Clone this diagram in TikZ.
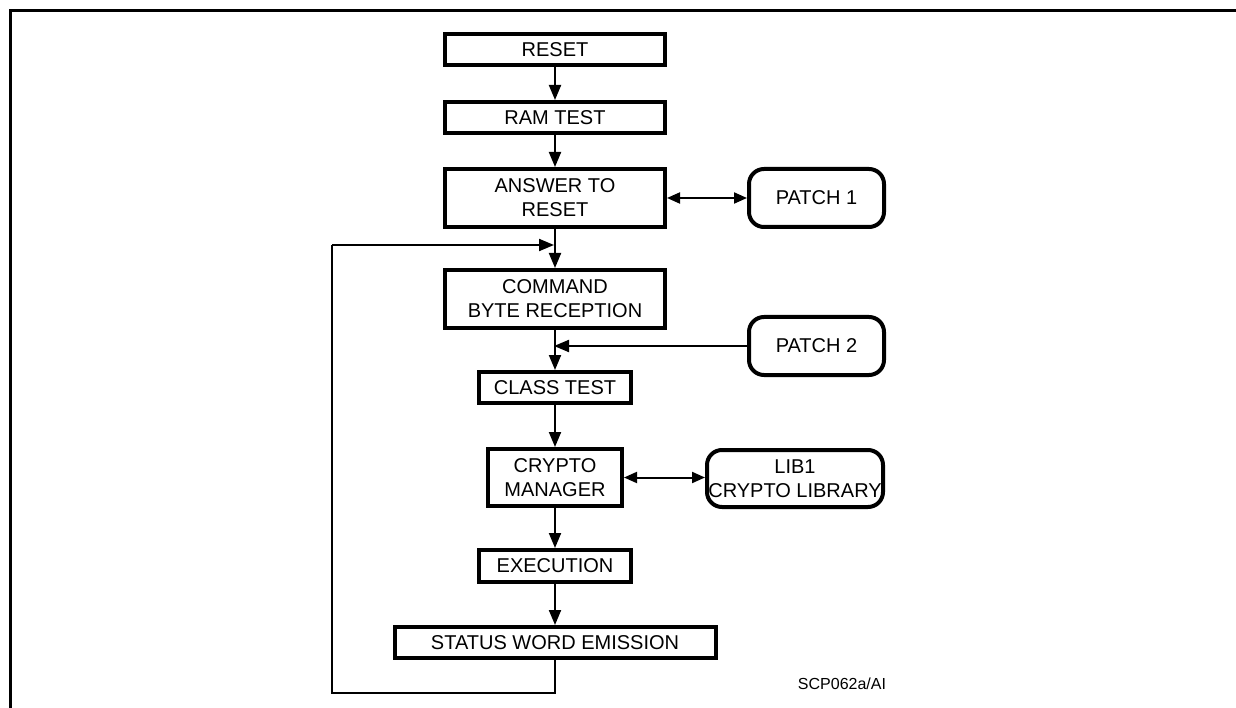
\documentclass[tikz,border=0pt]{standalone}
\usepackage{fontspec}
\setmainfont{Liberation Sans}
\usetikzlibrary{arrows.meta}
\begin{document}
\begin{tikzpicture}[x=1pt,y=-1pt,
  box/.style={draw, line width=4pt, rectangle, inner sep=0pt, align=center,
    font=\fontsize{20}{24}\selectfont},
  rbox/.style={box, rounded corners=15pt},
  conn/.style={line width=2pt, -{Triangle[length=15pt,width=12pt]}},
  dconn/.style={line width=2pt, {Triangle[length=13pt,width=11pt]}-{Triangle[length=13pt,width=11pt]}},
  wire/.style={line width=2pt},
  frameline/.style={line width=3pt},
  lbl/.style={inner sep=0pt, font=\fontsize{16}{19}\selectfont}]
\useasboundingbox (0,0) rectangle (1236,708);
% outer frame
\draw[frameline] (10,712) -- (10,11) -- (1240,11);

% main column
\node[box, minimum width=220pt, minimum height=31pt] (reset) at (555,49.5) {RESET};
\node[box, minimum width=220pt, minimum height=31pt] (ram) at (555,117.5) {RAM TEST};
\node[box, minimum width=220pt, minimum height=58pt] (atr) at (555,198) {ANSWER TO\\RESET};
\node[box, minimum width=220pt, minimum height=58pt] (cmd) at (555,299) {COMMAND\\BYTE RECEPTION};
\node[box, minimum width=152pt, minimum height=31pt] (class) at (555,387.5) {CLASS TEST};
\node[box, minimum width=134pt, minimum height=57pt] (crypto) at (555,477.5) {CRYPTO\\MANAGER};
\node[box, minimum width=152pt, minimum height=32pt] (exec) at (555,566) {EXECUTION};
\node[box, minimum width=321pt, minimum height=31pt] (status) at (555,642.5) {STATUS WORD EMISSION};

% side boxes
\node[rbox, minimum width=135pt, minimum height=58pt] (patch1) at (816.5,198) {PATCH 1};
\node[rbox, minimum width=135pt, minimum height=58pt] (patch2) at (816.5,346) {PATCH 2};
\node[rbox, minimum width=176pt, minimum height=57pt] (lib1) at (795,478.5) {LIB1\\CRYPTO LIBRARY};

% label
\node[lbl] (ref) at (842,683.5) {SCP062a/AI};

% junction coordinates
\coordinate (j1) at (555,245);
\coordinate (j2) at (555,346);
\coordinate (lb) at (555,693);
\coordinate (ll) at (332,693);
\coordinate (lt) at (332,245);

% connectors
\draw[conn] (reset) -- (ram);
\draw[conn] (ram) -- (atr);
\draw[conn] (atr) -- (cmd);
\draw[conn] (cmd) -- (class);
\draw[conn] (class) -- (crypto);
\draw[conn] (crypto) -- (exec);
\draw[conn] (exec) -- (status);
\draw[dconn] (atr.east) -- (patch1.west);
\draw[dconn] (crypto.east) -- (crypto.east -| lib1.west);
\draw[conn, shorten >=-1pt] (patch2.west) -- (j2);
\draw[wire] (status.south) -- (lb) -- (ll) -- (lt);
\draw[conn, shorten >=1pt] (lt) -- (j1);
\end{tikzpicture}
\end{document}
